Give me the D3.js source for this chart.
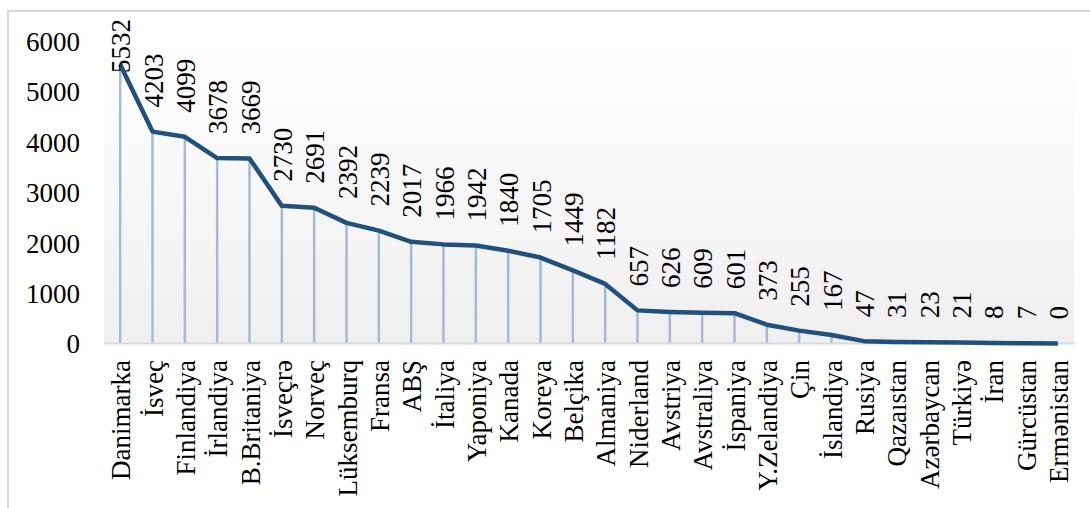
<!DOCTYPE html>
<html>
<head>
<meta charset="utf-8">
<script src="https://cdn.jsdelivr.net/npm/d3@7"></script>
<style>
  html, body { margin: 0; padding: 0; background: #ffffff; }
  svg { display: block; }
  svg text { font-family: "Liberation Serif", "Times New Roman", serif !important; fill: #000; }
</style>
</head>
<body>
<svg id="chart" width="1090" height="508" font-family="Liberation Serif"></svg>
<script>
const categories = ["Danimarka","İsveç","Finlandiya","İrlandiya","B.Britaniya","İsveçrə","Norveç","Lüksemburq","Fransa","ABŞ","İtaliya","Yaponiya","Kanada","Koreya","Belçika","Almaniya","Niderland","Avstriya","Avstraliya","İspaniya","Y.Zelandiya","Çin","İslandiya","Rusiya","Qazaıstan","Azərbaycan","Türkiyə","İran","Gürcüstan","Ermənistan"];
const values = [5532,4203,4099,3678,3669,2730,2691,2392,2239,2017,1966,1942,1840,1705,1449,1182,657,626,609,601,373,255,167,47,31,23,21,8,7,0];
const yTicks = [0,1000,2000,3000,4000,5000,6000];

const svg = d3.select("#chart");
const plot = { left: 104, right: 1074, top: 41, bottom: 343.5 };
const fontSize = 27;

// outer border
svg.append("rect")
  .attr("x", 8).attr("y", 11).attr("width", 1100).attr("height", 520)
  .attr("fill", "#ffffff").attr("stroke", "#d9d9d9").attr("stroke-width", 2);

// gradient plot background
const defs = svg.append("defs");
const grad = defs.append("linearGradient").attr("id", "bg")
  .attr("x1", 0).attr("y1", 0).attr("x2", 0).attr("y2", 1);
grad.append("stop").attr("offset", "0%").attr("stop-color", "#ffffff");
grad.append("stop").attr("offset", "100%").attr("stop-color", "#efefef");

const x = d3.scaleBand().domain(categories).range([plot.left, plot.right]).padding(0);
const y = d3.scaleLinear().domain([0, 6000]).range([plot.bottom, plot.top]);
const cx = d => x(d) + x.bandwidth() / 2;

svg.append("rect")
  .attr("x", plot.left).attr("y", plot.top)
  .attr("width", plot.right - plot.left).attr("height", plot.bottom - plot.top)
  .attr("fill", "url(#bg)");

// y axis labels
const yAxis = d3.axisLeft(y).tickValues(yTicks).tickSize(0).tickPadding(0).tickFormat(d3.format("d"));
const gy = svg.append("g").attr("transform", `translate(80,0)`).call(yAxis);
gy.attr("font-family", null).attr("font-size", null);
gy.select(".domain").remove();
gy.selectAll("text").style("font-size", fontSize + "px").attr("fill", "#000").attr("dy", "0.35em");

// drop lines
svg.append("g").selectAll("line").data(categories).join("line")
  .attr("x1", d => cx(d)).attr("x2", d => cx(d))
  .attr("y1", (d, i) => y(values[i])).attr("y2", plot.bottom)
  .attr("stroke", "#a8bace").attr("stroke-width", 2.5);

// x axis line
const xAxis = d3.axisBottom(x).tickSize(0).tickFormat("");
const gx = svg.append("g").attr("transform", `translate(0,${plot.bottom})`).call(xAxis);
gx.select(".domain").attr("stroke", "#d9d9d9").attr("stroke-width", 2).attr("d", `M${plot.left},0H${plot.right}`);

// line
const line = d3.line().x((d, i) => cx(categories[i])).y(d => y(d));
svg.append("path").datum(values)
  .attr("d", line).attr("fill", "none")
  .attr("stroke", "#22507c").attr("stroke-width", 4.5)
  .attr("stroke-linejoin", "round");

// data labels
const labels = svg.append("g").selectAll("text").data(values).join("text")
  .text(d => d)
  .style("font-size", fontSize + "px")
  .attr("dominant-baseline", "central")
  .attr("text-anchor", "start");
labels.each(function(d, i) {
  const len = this.getComputedTextLength();
  let yb = y(d) - 24;
  if (yb - len < 19) yb = 19 + len;
  d3.select(this).attr("transform", `translate(${cx(categories[i]) + 1},${yb}) rotate(-90)`);
});

// category labels
svg.append("g").selectAll("text").data(categories).join("text")
  .text(d => d)
  .style("font-size", fontSize + "px")
  .attr("dominant-baseline", "central")
  .attr("text-anchor", "end")
  .attr("transform", d => `translate(${cx(d) + 1},360) rotate(-90)`);
</script>
</body>
</html>
